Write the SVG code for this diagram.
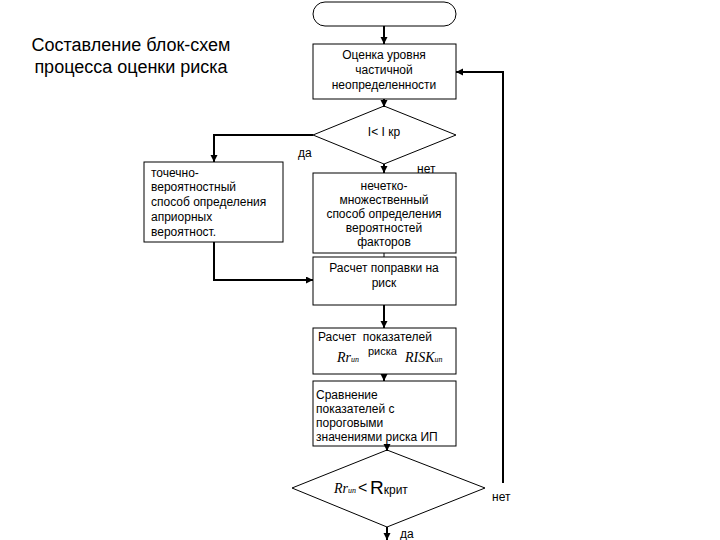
<svg xmlns="http://www.w3.org/2000/svg" width="720" height="540" viewBox="0 0 720 540">
<style>
.box{fill:#fff;stroke:#000;stroke-width:1}
.con{fill:none;stroke:#000;stroke-width:2}
.t{font-family:"Liberation Sans",Arial,sans-serif;font-size:12px;fill:#000}
.c{text-anchor:middle}
.title{font-family:"Liberation Sans",Arial,sans-serif;font-size:18px;fill:#000;text-anchor:middle}
.m{font-family:"Liberation Serif","Times New Roman",serif;font-style:italic;fill:#000}
</style>
<defs>
<marker id="ah" markerUnits="userSpaceOnUse" markerWidth="8" markerHeight="8" refX="7" refY="3.5" orient="auto">
<path d="M0,0 L7,3.5 L0,7 z" fill="#000"/>
</marker>
</defs>
<rect width="720" height="540" fill="#fff"/>
<g id="title">
<text class="title" x="131" y="51">Составление блок-схем</text>
<text class="title" x="131" y="73">процесса оценки риска</text>
</g>
<g id="start"><rect class="box" x="313" y="2" width="143" height="24" rx="12" ry="12"/></g>
<g id="n1"><rect class="box" x="313" y="44" width="143" height="55"/>
<text class="t c" x="384" y="59">Оценка уровня</text>
<text class="t c" x="384" y="74">частичной</text>
<text class="t c" x="384" y="89">неопределенности</text></g>
<g id="d1"><polygon class="box" points="384,106 456,135 384,164 313,135"/>
<text class="t c" x="384" y="136">I&lt; I кр</text></g>
<g id="n2"><rect class="box" x="144" y="162" width="139" height="80"/>
<text class="t" x="151" y="177">точечно-</text>
<text class="t" x="151" y="191">вероятностный</text>
<text class="t" x="151" y="206">способ определения</text>
<text class="t" x="151" y="221">априорных</text>
<text class="t" x="151" y="236">вероятност.</text></g>
<g id="n3"><rect class="box" x="313" y="173" width="143" height="80"/>
<text class="t c" x="384" y="190">нечетко-</text>
<text class="t c" x="384" y="204">множественный</text>
<text class="t c" x="384" y="218">способ определения</text>
<text class="t c" x="384" y="232">вероятностей</text>
<text class="t c" x="384" y="246">факторов</text></g>
<g id="n4"><rect class="box" x="313" y="257" width="143" height="48"/>
<text class="t c" x="384" y="272">Расчет поправки на</text>
<text class="t c" x="384" y="287">риск</text></g>
<g id="n5"><rect class="box" x="313" y="328" width="143" height="46"/>
<text class="t" x="318" y="341" xml:space="preserve">Расчет  показателей</text>
<text class="t" x="368" y="355" style="font-size:11px">риска</text>
<text class="m" x="337" y="362" style="font-size:14px">Rr<tspan style="font-size:8px">ип</tspan></text>
<text class="m" x="405" y="362" style="font-size:14px">RISK<tspan style="font-size:8px">ип</tspan></text></g>
<g id="n6"><rect class="box" x="313" y="381" width="143" height="65"/>
<text class="t" x="316" y="399">Сравнение</text>
<text class="t" x="316" y="413">показателей с</text>
<text class="t" x="316" y="427">пороговыми</text>
<text class="t" x="316" y="441">значениями риска ИП</text></g>
<g id="d2"><polygon class="box" points="387,450 485,488 387,527 292,488"/>
<text class="m" x="334" y="493" style="font-size:14px">Rr<tspan style="font-size:8px">ип</tspan></text>
<text x="358" y="493" style="font-family:'Liberation Sans',Arial,sans-serif;font-size:16px">&lt;</text>
<text x="370" y="494" style="font-family:'Liberation Sans',Arial,sans-serif;font-size:19px">R<tspan style="font-size:12px">крит</tspan></text></g>
<g id="connectors">
<line class="con" x1="384" y1="26" x2="384" y2="44" marker-end="url(#ah)"/>
<line class="con" x1="384" y1="99" x2="384" y2="107" marker-end="url(#ah)"/>
<polyline class="con" points="313,135 214,135 214,162" marker-end="url(#ah)"/>
<line class="con" x1="384" y1="164" x2="384" y2="173" marker-end="url(#ah)"/>
<line class="con" x1="384" y1="253" x2="384" y2="257" style="stroke-width:1"/>
<polyline class="con" points="214,242 214,280 313,280" marker-end="url(#ah)"/>
<line class="con" x1="384" y1="305" x2="384" y2="328" marker-end="url(#ah)"/>
<line class="con" x1="384" y1="374" x2="384" y2="381" marker-end="url(#ah)"/>
<line class="con" x1="387" y1="446" x2="387" y2="451" marker-end="url(#ah)"/>
<polyline class="con" points="503,483 503,72 456,72" marker-end="url(#ah)"/>
<line class="con" x1="387" y1="527" x2="387" y2="540" marker-end="url(#ah)"/>
<text class="t" x="298" y="157">да</text>
<text class="t" x="417" y="173">нет</text>
<text class="t" x="492" y="501">нет</text>
<text class="t" x="400" y="538">да</text>
</g>
</svg>
